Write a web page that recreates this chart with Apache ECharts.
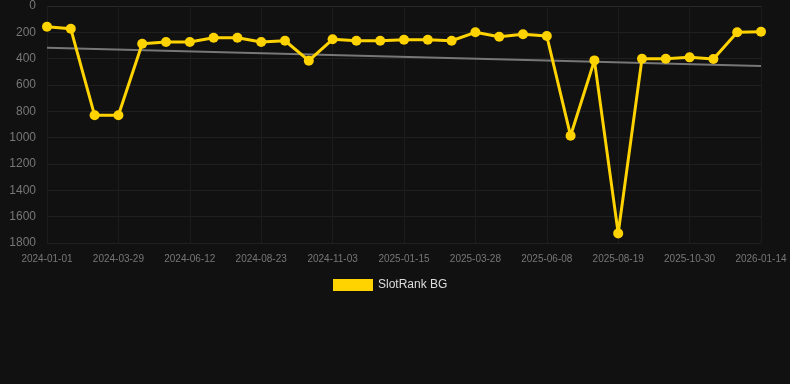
<!DOCTYPE html>
<html>
<head>
<meta charset="utf-8">
<script src="https://cdn.jsdelivr.net/npm/echarts@6/dist/echarts.min.js"></script>
<style>html,body{margin:0;padding:0;background:#111111;}#c{width:790px;height:384px;}</style>
</head>
<body>
<div id="c"></div>
<script>
const dates = [
  '2024-01-01','2024-01-30','2024-02-28','2024-03-29','2024-04-23','2024-05-18',
  '2024-06-12','2024-07-06','2024-07-30','2024-08-23','2024-09-16','2024-10-10',
  '2024-11-03','2024-11-27','2024-12-22','2025-01-15','2025-02-08','2025-03-04',
  '2025-03-28','2025-04-21','2025-05-15','2025-06-08','2025-07-02','2025-07-26',
  '2025-08-19','2025-09-12','2025-10-06','2025-10-30','2025-11-24','2025-12-19',
  '2026-01-14'
];
const rankValues = [
  158, 173, 830, 830, 287, 274, 274, 241, 241, 274, 264, 415, 253, 264, 264, 256,
  256, 264, 200, 233, 215, 228, 986, 413, 1727, 400, 400, 390, 403, 200, 195
];
const trendEnds = [317, 456];
const yTicks = { min: 0, max: 1800, interval: 200 };
const seriesName = 'SlotRank BG';

const trendData = dates.map((d, i) => (i === 0 ? trendEnds[0] : i === dates.length - 1 ? trendEnds[1] : null));

const chart = echarts.init(document.getElementById('c'), null, { renderer: 'canvas' });
chart.setOption({
  backgroundColor: '#111111',
  animation: false,
  grid: { left: 47, right: 29, top: 6, bottom: 141, containLabel: false },
  legend: {
    data: [{ name: seriesName, icon: 'rect' }],
    bottom: 88,
    left: 328,
    itemWidth: 40,
    itemHeight: 12,
    itemGap: 6,
    textStyle: { color: '#dddddd', fontSize: 12, fontFamily: 'Liberation Sans, Arial, sans-serif' }
  },
  xAxis: {
    type: 'category',
    data: dates,
    boundaryGap: false,
    axisLine: { show: true, lineStyle: { color: '#2a2a2a' } },
    axisTick: { show: true, interval: 2, alignWithLabel: true, length: 5, lineStyle: { color: '#1c1c1c' } },
    axisLabel: { interval: 2, color: '#777777', fontSize: 10, margin: 11, fontFamily: 'Liberation Sans, Arial, sans-serif' },
    splitLine: { show: true, interval: 2, lineStyle: { color: '#1c1c1c' } }
  },
  yAxis: {
    type: 'value',
    inverse: true,
    min: yTicks.min,
    max: yTicks.max,
    interval: yTicks.interval,
    axisLine: { show: false },
    axisTick: { show: false },
    axisLabel: { color: '#777777', fontSize: 12, margin: 11, formatter: v => String(v), fontFamily: 'Liberation Sans, Arial, sans-serif' },
    splitLine: { show: true, lineStyle: { color: '#202020' } }
  },
  series: [
    {
      name: 'trend',
      type: 'line',
      data: trendData,
      connectNulls: true,
      symbol: 'none',
      lineStyle: { color: '#777777', width: 2 },
      silent: true,
      z: 1
    },
    {
      name: seriesName,
      type: 'line',
      data: rankValues,
      symbol: 'circle',
      symbolSize: 10,
      itemStyle: { color: '#ffd300' },
      lineStyle: { color: '#ffd300', width: 3 },
      z: 3
    }
  ]
});
</script>
</body>
</html>
